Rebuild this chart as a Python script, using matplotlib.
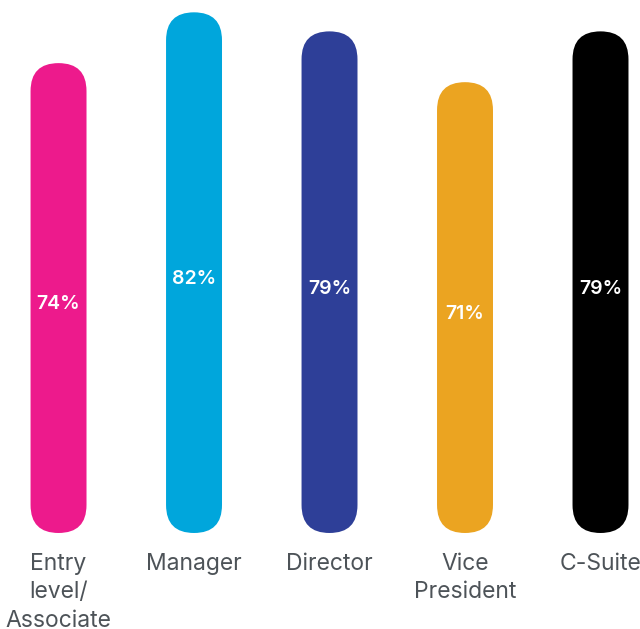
import matplotlib
matplotlib.use("Agg")
import matplotlib.pyplot as plt
from matplotlib.patches import FancyBboxPatch

categories = ["Entry\nlevel/\nAssociate", "Manager", "Director", "Vice\nPresident", "C-Suite"]
values = [74, 82, 79, 71, 79]
colors = ["#ED1A8C", "#00A6DC", "#2E3F98", "#EBA421", "#000000"]

plt.rcParams['font.family'] = ['Inter', 'DejaVu Sans']

fig = plt.figure(figsize=(6.4, 6.29), dpi=100)
ax = fig.add_axes([0, 0, 1, 1])
ax.set_xlim(-0.432, 4.2915)
ax.set_ylim(-15.12, 83.94)
ax.axis('off')

bar_w = 0.413
# data-units ratio so the caps stay round
px_x = (4.2915 + 0.432) / 640
px_y = (83.94 + 15.12) / 629
aspect = px_y / px_x

for i, (v, c) in enumerate(zip(values, colors)):
    patch = FancyBboxPatch((i - bar_w / 2, 0), bar_w, v,
                           boxstyle="round,pad=0,rounding_size=%f" % (bar_w / 2),
                           mutation_aspect=aspect, fc=c, ec='none')
    ax.add_patch(patch)
    ax.text(i, v / 2 - 1.0, "%d%%" % v, ha='center', va='center',
            color='white', fontsize=14, fontweight='semibold')
    ax.text(i, -3.1, categories[i], ha='center', va='top', color='#4d5358',
            fontsize=16.5, linespacing=1.38)

fig.savefig("out.png", dpi=100)
